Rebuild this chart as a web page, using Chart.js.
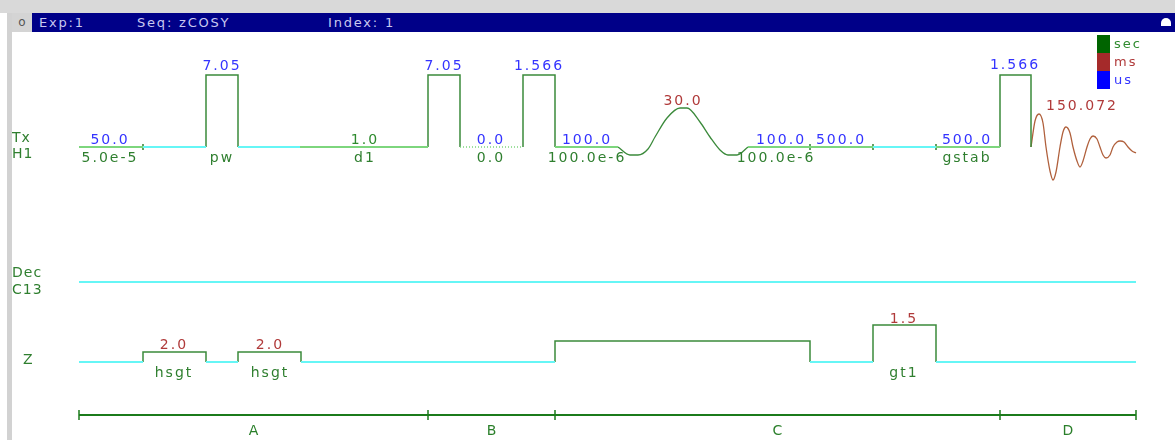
<!DOCTYPE html>
<html>
<head>
<meta charset="utf-8">
<script src="https://cdn.jsdelivr.net/npm/chart.js@4.4.1/dist/chart.umd.min.js"></script>
<style>
  html, body { margin: 0; padding: 0; background: #fff; }
  #wrap { position: relative; width: 1175px; height: 440px; overflow: hidden; background: #fff; font-family: 'DejaVu Sans', sans-serif; }
  canvas { position: absolute; left: 0; top: 0; }
  #top { position: absolute; left: 0; top: 0; width: 1175px; height: 13px; background: #d9d9d9; }
  #side { position: absolute; left: 7px; top: 13px; width: 5px; height: 427px; background: #d2d2d2; }
  #bar { position: absolute; left: 12px; top: 13px; width: 1163px; height: 19px; background: #000088; }
  #btn { position: absolute; left: 12px; top: 13px; width: 20px; height: 19px; background: #d4d4d4; color: #555; font-size: 12px; text-align: center; line-height: 18px; }
  .ttl { position: absolute; top: 13px; line-height: 19px; font-size: 13px; color: #c8c8f0; letter-spacing: 1.8px; white-space: nowrap; }
  #icon { position: absolute; left: 1161px; top: 18px; width: 10px; height: 8px; background: #fff; border-radius: 5px 5px 0 0; }
</style>
</head>
<body>
<div id="wrap">
  <canvas id="seq" width="1175" height="440"></canvas>
  <div id="top"></div>
  <div id="side"></div>
  <div id="bar"></div>
  <div id="btn">o</div>
  <div class="ttl" style="left:39px">Exp:1</div>
  <div class="ttl" style="left:137px">Seq: zCOSY</div>
  <div class="ttl" style="left:328px">Index: 1</div>
  <div id="icon"></div>
</div>
<script>
// --- sequence data (time axis in display units) ---
const txIdle = [[143, 206], [238, 300], [873, 936]];
const txDelays = [[79, 143], [300, 428], [555, 618], [748, 810], [810, 873], [936, 1000]];
const txDotted = [[460, 523]];
const txPulses = [[206, 238], [428, 460], [523, 555], [1000, 1031]];
const txPulseHeight = 72;
const txTicks = [143, 810, 873, 936];

// shaped pulse (amplitude above baseline)
const shapeT = [618, 630, 638, 648, 655, 667, 680, 687, 700, 710, 720, 728, 737, 748];
const shapeA = [0, -8, -8, -2, 10, 29, 39, 39, 25, 10, -3, -8, -8, 0];

// acquisition (FID)
const fidT = [1031, 1035, 1039, 1043, 1046, 1050, 1053, 1056, 1060, 1063, 1066, 1070, 1073, 1077, 1080, 1083, 1087, 1090, 1093, 1097, 1100, 1103, 1106, 1110, 1113, 1117, 1120, 1124, 1128, 1132, 1136];
const fidA = [0, 26, 33, 24, 0, -24, -33, -25, 0, 15, 20, 14, 0, -14, -20, -14, 0, 8, 11, 8, 0, -8, -11, -8, 0, 5, 6, 5, 0, -4, -6];

const txTopText = ['50.0', '7.05', '1.0', '7.05', '0.0', '1.566', '100.0', '30.0', '100.0', '500.0', '500.0', '1.566', '150.072'];
const txTopAt = [110, 222, 365, 444, 491, 539, 587, 683, 781, 841, 967, 1015, 1082];
const txTopLift = [3, 77, 3, 77, 3, 77, 3, 42, 3, 3, 3, 78, 37];
const txTopUnit = ['us', 'us', 'sec', 'us', 'us', 'us', 'us', 'ms', 'us', 'us', 'us', 'us', 'ms'];
const txBottomText = ['5.0e-5', 'pw', 'd1', '0.0', '100.0e-6', '100.0e-6', 'gstab'];
const txBottomAt = [110, 222, 365, 491, 587, 776, 967];

const decLine = [[79, 1136]];

const zIdle = [[79, 143], [206, 238], [301, 555], [810, 873], [936, 1136]];
const zGrads = [[143, 206], [238, 301], [555, 810], [873, 936]];
const zLevels = [10, 10, 21, 37];
const zTopText = ['2.0', '2.0', '1.5'];
const zTopAt = [174, 270, 904];
const zBottomText = ['hsgt', 'hsgt', 'gt1'];

const sectionBounds = [79, 428, 555, 1000, 1136];
const sectionNames = ['A', 'B', 'C', 'D'];

const units = ['sec', 'ms', 'us'];
const unitBar = ['#006400', '#a52a2a', '#0000ff'];
const unitText = ['#2e8b2e', '#b03a3a', '#3434ff'];

// --- layout ---
const TX = 147, DEC = 282, ZB = 362, AX = 415;
const GREEN = '#3b8a3b', LIGHT = '#7dd67d', CYAN = '#66f6f6';

function flat(list, base) {
    const pts = [];
    list.forEach(([a, b]) => pts.push({ x: a, y: base }, { x: b, y: base }, { x: b, y: null }));
    return pts;
}
function rects(list, base, heights) {
    const pts = [];
    list.forEach(([a, b], i) => {
        const h = Array.isArray(heights) ? heights[i] : heights;
        pts.push({ x: a, y: base }, { x: a, y: base - h }, { x: b, y: base - h }, { x: b, y: base }, { x: b, y: null });
    });
    return pts;
}
function ticks(list, base, half) {
    const pts = [];
    list.forEach(t => pts.push({ x: t, y: base - half }, { x: t, y: base + half }, { x: t, y: null }));
    return pts;
}
function curve(ts, as, base) {
    return ts.map((t, i) => ({ x: t, y: base - as[i] }));
}

const line = (data, color, width, extra) => Object.assign({
    data, borderColor: color, borderWidth: width, pointRadius: 0, spanGaps: false, tension: 0, fill: false
}, extra || {});

const textPlugin = {
    id: 'seqText',
    afterDatasetsDraw(chart) {
        const { ctx, scales: { x, y } } = chart;
        const color = u => unitText[units.indexOf(u)];
        const put = (s, t, row, fill, font, spacing, align) => {
            ctx.save();
            ctx.font = font;
            ctx.letterSpacing = spacing;
            ctx.fillStyle = fill;
            ctx.textAlign = align || 'center';
            ctx.textBaseline = 'alphabetic';
            ctx.fillText(s, typeof t === 'number' ? x.getPixelForValue(t) : t.px, y.getPixelForValue(row));
            ctx.restore();
        };
        const VAL = "14px 'DejaVu Sans'";
        txTopText.forEach((s, i) => put(s, txTopAt[i], TX - txTopLift[i], color(txTopUnit[i]), VAL, '2px'));
        txBottomText.forEach((s, i) => put(s, txBottomAt[i], TX + 15, '#2f7f2f', VAL, '2px'));
        zTopText.forEach((s, i) => put(s, zTopAt[i], ZB - (i === 2 ? 39 : 13), '#b03a3a', VAL, '2px'));
        zBottomText.forEach((s, i) => put(s, zTopAt[i], ZB + 15, '#2f7f2f', VAL, '2px'));
        sectionNames.forEach((s, i) => put(s, (sectionBounds[i] + sectionBounds[i + 1]) / 2, AX + 20, '#2a7f2a', "14px 'DejaVu Sans'", '0px'));

        const ROW = "14px 'DejaVu Sans'";
        put('Tx', { px: 12 }, 142, '#2f7f2f', ROW, '1px', 'left');
        put('H1', { px: 12 }, 158, '#2f7f2f', ROW, '1px', 'left');
        put('Dec', { px: 12 }, 277, '#2f7f2f', ROW, '1px', 'left');
        put('C13', { px: 12 }, 294, '#2f7f2f', ROW, '1px', 'left');
        put('Z', { px: 23 }, 364, '#2f7f2f', ROW, '1px', 'left');

        // unit legend
        units.forEach((u, i) => {
            ctx.fillStyle = unitBar[i];
            ctx.fillRect(1097, 35 + i * 18, 13, 18);
            put(u, { px: 1114 }, 48 + i * 18, unitText[i], "13px 'DejaVu Sans'", '2px', 'left');
        });
    }
};

new Chart(document.getElementById('seq'), {
    type: 'line',
    data: {
        datasets: [
            line(flat(txIdle, TX), CYAN, 2),
            line(flat(txDelays, TX), LIGHT, 2),
            line(flat(txDotted, TX), LIGHT, 1.5, { borderDash: [1, 2] }),
            line(rects(txPulses, TX, txPulseHeight), GREEN, 1.5),
            line(curve(shapeT, shapeA, TX), GREEN, 1.3, { cubicInterpolationMode: 'monotone' }),
            line(curve(fidT, fidA, TX), '#b0603c', 1.3, { cubicInterpolationMode: 'monotone' }),
            line(ticks(txTicks, TX, 3), '#2f7f2f', 1.5),
            line(flat(decLine, DEC), CYAN, 2),
            line(flat(zIdle, ZB), CYAN, 2),
            line(rects(zGrads, ZB, zLevels), GREEN, 1.5),
            line(flat([[sectionBounds[0], sectionBounds[sectionBounds.length - 1]]], AX), '#1b7b1b', 2),
            line(ticks(sectionBounds, AX, 5), '#1b7b1b', 1.5)
        ]
    },
    options: {
        responsive: false,
        animation: false,
        devicePixelRatio: 1,
        events: [],
        layout: { padding: 0 },
        plugins: { legend: { display: false }, tooltip: { enabled: false } },
        scales: {
            x: { type: 'linear', display: false, min: 0, max: 1175 },
            y: { type: 'linear', display: false, min: 0, max: 440, reverse: true }
        }
    },
    plugins: [textPlugin]
});
</script>
</body>
</html>
